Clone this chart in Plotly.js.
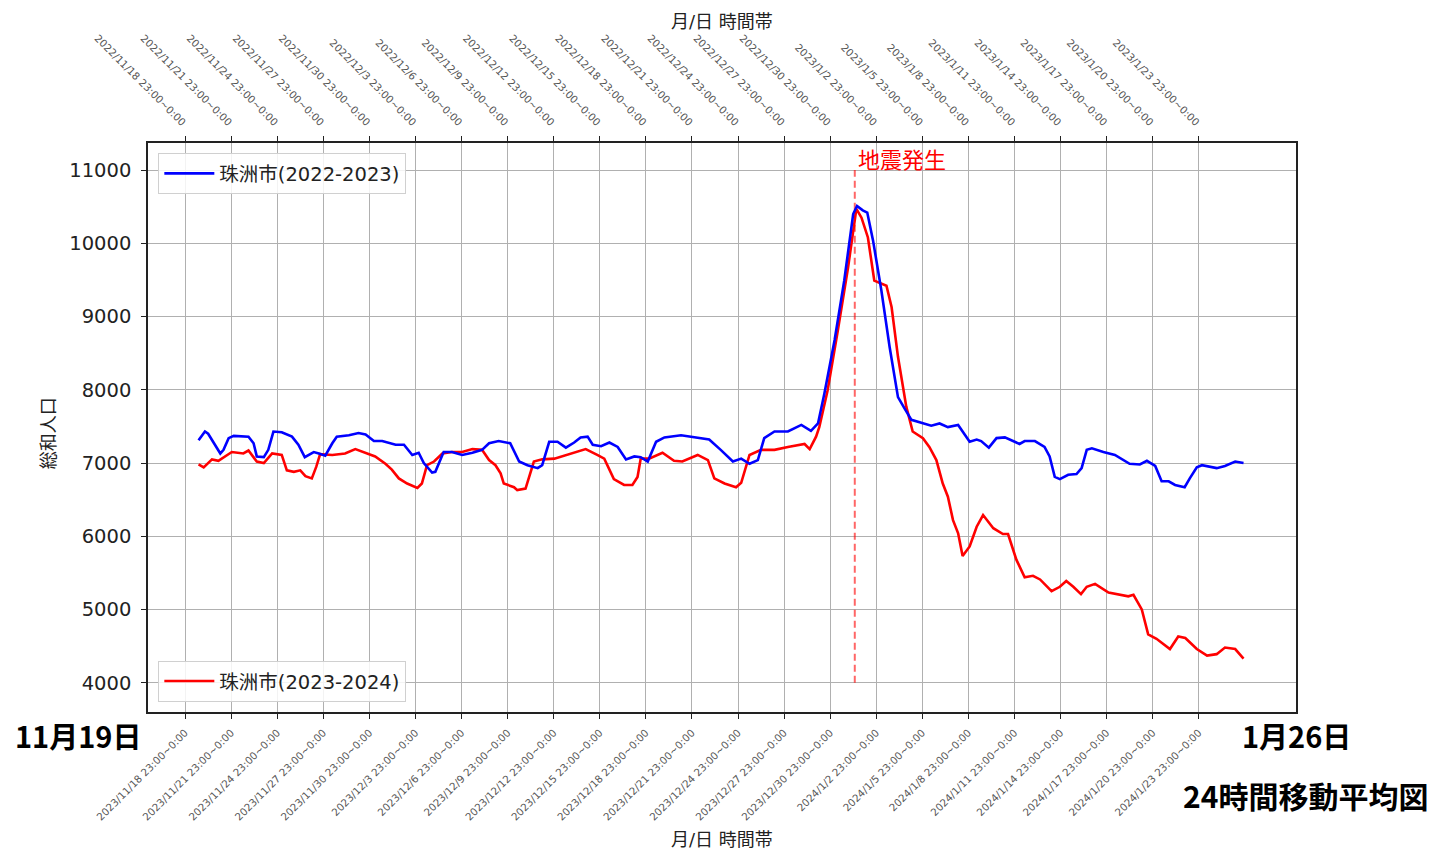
<!DOCTYPE html>
<html>
<head>
<meta charset="utf-8">
<script src="https://cdn.plot.ly/plotly-3.0.1.min.js"></script>
<style>
  html, body { margin: 0; padding: 0; background: #ffffff; }
  #chart { width: 1439px; height: 851px; }
</style>
</head>
<body>
<div id="chart"></div>
<script>
// 珠洲市 24-hour moving average population, two winters side by side.

// 2022-2023 season (top axis)
const blueTimes = [
  '2022-11-19 20:00','2022-11-20 06:00','2022-11-20 11:00','2022-11-21 06:00','2022-11-21 11:00',
  '2022-11-21 19:00','2022-11-22 03:00','2022-11-23 02:00','2022-11-23 10:00','2022-11-23 15:00',
  '2022-11-24 02:00','2022-11-24 09:00','2022-11-24 17:00','2022-11-25 06:00','2022-11-25 22:00',
  '2022-11-26 08:00','2022-11-26 18:00','2022-11-27 08:00','2022-11-27 16:00','2022-11-28 02:00',
  '2022-11-28 13:00','2022-11-28 20:00','2022-11-29 15:00','2022-11-30 06:00','2022-11-30 17:00',
  '2022-12-01 06:00','2022-12-01 19:00','2022-12-02 16:00','2022-12-03 05:00','2022-12-03 18:00',
  '2022-12-04 04:00','2022-12-04 12:00','2022-12-05 01:00','2022-12-05 06:00','2022-12-05 19:00',
  '2022-12-06 08:00','2022-12-07 00:00','2022-12-07 16:00','2022-12-08 07:00','2022-12-08 18:00',
  '2022-12-09 09:00','2022-12-10 03:00','2022-12-10 17:00','2022-12-11 06:00','2022-12-11 22:00',
  '2022-12-12 05:00','2022-12-12 16:00','2022-12-13 05:00','2022-12-13 18:00','2022-12-14 07:00',
  '2022-12-14 17:00','2022-12-15 04:00','2022-12-15 12:00','2022-12-16 01:00','2022-12-16 14:00',
  '2022-12-17 03:00','2022-12-17 16:00','2022-12-18 05:00','2022-12-18 15:00','2022-12-19 02:00',
  '2022-12-19 15:00','2022-12-20 04:00','2022-12-21 06:00','2022-12-22 08:00','2022-12-23 02:00',
  '2022-12-23 20:00','2022-12-24 15:00','2022-12-25 04:00','2022-12-25 17:00','2022-12-26 06:00',
  '2022-12-26 16:00','2022-12-27 08:00','2022-12-28 05:00','2022-12-29 02:00','2022-12-29 17:00',
  '2022-12-30 04:00','2022-12-30 14:00','2022-12-31 06:00','2022-12-31 21:00','2023-01-01 11:00',
  '2023-01-01 17:00','2023-01-02 02:00','2023-01-02 09:00','2023-01-02 18:00','2023-01-03 07:00',
  '2023-01-03 20:00','2023-01-04 09:00','2023-01-04 19:00','2023-01-05 06:00','2023-01-06 13:00',
  '2023-01-07 02:00','2023-01-07 15:00','2023-01-08 07:00','2023-01-09 01:00','2023-01-09 12:00',
  '2023-01-09 19:00','2023-01-10 07:00','2023-01-10 19:00','2023-01-11 08:00','2023-01-12 07:00',
  '2023-01-12 15:00','2023-01-13 07:00','2023-01-13 22:00','2023-01-14 06:00','2023-01-14 14:00',
  '2023-01-14 22:00','2023-01-15 11:00','2023-01-16 00:00','2023-01-16 08:00','2023-01-16 16:00',
  '2023-01-17 00:00','2023-01-17 18:00','2023-01-18 12:00','2023-01-19 11:00','2023-01-20 03:00',
  '2023-01-20 14:00','2023-01-21 03:00','2023-01-21 13:00','2023-01-22 00:00','2023-01-22 10:00',
  '2023-01-23 01:00','2023-01-23 09:00','2023-01-23 20:00','2023-01-24 04:00','2023-01-24 14:00',
  '2023-01-25 03:00','2023-01-25 16:00','2023-01-26 08:00','2023-01-26 21:00'
];
const blueValues = [
  7310, 7430, 7400, 7130, 7180,
  7340, 7370, 7360, 7270, 7090,
  7080, 7180, 7430, 7420, 7360,
  7250, 7080, 7150, 7130, 7100,
  7270, 7360, 7380, 7410, 7390,
  7300, 7300, 7250, 7250, 7110,
  7140, 7000, 6870, 6880, 7150,
  7150, 7110, 7140, 7180, 7270,
  7300, 7270, 7020, 6970, 6930,
  6970, 7290, 7290, 7210, 7280,
  7350, 7360, 7250, 7230, 7280,
  7220, 7050, 7090, 7080, 7020,
  7290, 7350, 7380, 7350, 7320,
  7180, 7020, 7060, 6990, 7040,
  7340, 7430, 7430, 7520, 7440,
  7540, 7950, 8680, 9490, 10400,
  10510, 10450, 10420, 10040, 9360,
  8580, 7900, 7750, 7590, 7510,
  7540, 7490, 7520, 7290, 7320,
  7300, 7210, 7340, 7350, 7260,
  7300, 7300, 7220, 7090, 6810,
  6780, 6840, 6850, 6930, 7180,
  7200, 7150, 7110, 6990, 6980,
  7030, 6960, 6750, 6750, 6700,
  6670, 6790, 6940, 6970, 6950,
  6930, 6960, 7020, 7000
];

// 2023-2024 season (bottom axis)
const redTimes = [
  '2023-11-19 20:00','2023-11-20 04:00','2023-11-20 17:00','2023-11-21 03:00','2023-11-22 00:00',
  '2023-11-22 18:00','2023-11-23 02:00','2023-11-23 15:00','2023-11-24 02:00','2023-11-24 15:00',
  '2023-11-25 06:00','2023-11-25 14:00','2023-11-26 01:00','2023-11-26 11:00','2023-11-26 19:00',
  '2023-11-27 05:00','2023-11-27 12:00','2023-11-27 18:00','2023-11-28 13:00','2023-11-29 09:00',
  '2023-11-30 01:00','2023-11-30 17:00','2023-12-01 08:00','2023-12-02 00:00','2023-12-02 10:00',
  '2023-12-02 21:00','2023-12-03 10:00','2023-12-04 02:00','2023-12-04 09:00','2023-12-04 17:00',
  '2023-12-05 04:00','2023-12-05 17:00','2023-12-06 08:00','2023-12-07 00:00','2023-12-07 16:00',
  '2023-12-08 07:00','2023-12-08 18:00','2023-12-09 04:00','2023-12-09 12:00','2023-12-09 17:00',
  '2023-12-09 23:00','2023-12-10 09:00','2023-12-10 14:00','2023-12-11 03:00','2023-12-11 16:00',
  '2023-12-12 05:00','2023-12-13 00:00','2023-12-13 20:00','2023-12-15 01:00','2023-12-15 19:00',
  '2023-12-16 06:00','2023-12-16 21:00','2023-12-17 13:00','2023-12-18 02:00','2023-12-18 10:00',
  '2023-12-18 15:00','2023-12-19 04:00','2023-12-20 01:00','2023-12-20 19:00','2023-12-21 08:00',
  '2023-12-22 08:00','2023-12-23 00:00','2023-12-23 10:00','2023-12-24 02:00','2023-12-24 20:00',
  '2023-12-25 04:00','2023-12-25 17:00','2023-12-26 11:00','2023-12-27 08:00','2023-12-28 05:00',
  '2023-12-29 07:00','2023-12-29 15:00','2023-12-30 01:00','2023-12-30 06:00','2023-12-30 19:00',
  '2023-12-31 11:00','2024-01-01 03:00','2024-01-01 16:00','2024-01-02 00:00','2024-01-02 10:00',
  '2024-01-02 20:00','2024-01-03 15:00','2024-01-03 23:00','2024-01-04 09:00','2024-01-04 22:00',
  '2024-01-05 08:00','2024-01-06 00:00','2024-01-06 10:00','2024-01-06 21:00','2024-01-07 07:00',
  '2024-01-07 15:00','2024-01-07 23:00','2024-01-08 07:00','2024-01-08 14:00','2024-01-09 01:00',
  '2024-01-09 12:00','2024-01-09 22:00','2024-01-10 14:00','2024-01-11 05:00','2024-01-11 13:00',
  '2024-01-12 02:00','2024-01-12 15:00','2024-01-13 04:00','2024-01-13 15:00','2024-01-14 09:00',
  '2024-01-14 22:00','2024-01-15 08:00','2024-01-15 19:00','2024-01-16 07:00','2024-01-16 16:00',
  '2024-01-17 05:00','2024-01-18 02:00','2024-01-18 20:00','2024-01-19 09:00','2024-01-19 17:00',
  '2024-01-20 06:00','2024-01-20 16:00','2024-01-21 05:00','2024-01-22 02:00','2024-01-22 15:00',
  '2024-01-23 02:00','2024-01-23 20:00','2024-01-24 12:00','2024-01-25 03:00','2024-01-25 16:00',
  '2024-01-26 08:00','2024-01-26 21:00'
];
const redValues = [
  6980, 6940, 7050, 7030, 7150,
  7130, 7170, 7020, 7000, 7130,
  7110, 6900, 6880, 6900, 6820,
  6790, 6950, 7120, 7110, 7130,
  7190, 7140, 7090, 6990, 6910,
  6790, 6720, 6660, 6720, 6970,
  7020, 7130, 7150, 7150, 7190,
  7180, 7040, 6970, 6860, 6720,
  6700, 6670, 6630, 6650, 7020,
  7050, 7060, 7110, 7190, 7110,
  7060, 6780, 6700, 6700, 6810,
  7060, 7060, 7140, 7030, 7020,
  7110, 7040, 6790, 6720, 6670,
  6730, 7110, 7180, 7180, 7220,
  7260, 7190, 7360, 7490, 7990,
  8810, 9670, 10470, 10350, 10080,
  9490, 9420, 9130, 8450, 7770,
  7430, 7340, 7220, 7040, 6720,
  6540, 6220, 6040, 5730, 5860,
  6130, 6290, 6110, 6030, 6030,
  5680, 5440, 5460, 5410, 5250,
  5310, 5390, 5310, 5210, 5310,
  5350, 5230, 5200, 5180, 5200,
  5000, 4660, 4600, 4460, 4630,
  4610, 4460, 4370, 4390, 4480,
  4460, 4330
];

// Earthquake marker
const quakeTime = '2024-01-01 13:30';
const quakeSpan = [4000, 11000];
const quakeLabel = '地震発生';

// Axis ticks (every three days)
const bottomTickVals = [
  '2023-11-18 23:00','2023-11-21 23:00','2023-11-24 23:00','2023-11-27 23:00','2023-11-30 23:00',
  '2023-12-03 23:00','2023-12-06 23:00','2023-12-09 23:00','2023-12-12 23:00','2023-12-15 23:00',
  '2023-12-18 23:00','2023-12-21 23:00','2023-12-24 23:00','2023-12-27 23:00','2023-12-30 23:00',
  '2024-01-02 23:00','2024-01-05 23:00','2024-01-08 23:00','2024-01-11 23:00','2024-01-14 23:00',
  '2024-01-17 23:00','2024-01-20 23:00','2024-01-23 23:00'
];
const bottomTickLabels = [
  '2023/11/18 23:00~0:00','2023/11/21 23:00~0:00','2023/11/24 23:00~0:00','2023/11/27 23:00~0:00','2023/11/30 23:00~0:00',
  '2023/12/3 23:00~0:00','2023/12/6 23:00~0:00','2023/12/9 23:00~0:00','2023/12/12 23:00~0:00','2023/12/15 23:00~0:00',
  '2023/12/18 23:00~0:00','2023/12/21 23:00~0:00','2023/12/24 23:00~0:00','2023/12/27 23:00~0:00','2023/12/30 23:00~0:00',
  '2024/1/2 23:00~0:00','2024/1/5 23:00~0:00','2024/1/8 23:00~0:00','2024/1/11 23:00~0:00','2024/1/14 23:00~0:00',
  '2024/1/17 23:00~0:00','2024/1/20 23:00~0:00','2024/1/23 23:00~0:00'
];
const topTickVals = [
  '2022-11-18 23:00','2022-11-21 23:00','2022-11-24 23:00','2022-11-27 23:00','2022-11-30 23:00',
  '2022-12-03 23:00','2022-12-06 23:00','2022-12-09 23:00','2022-12-12 23:00','2022-12-15 23:00',
  '2022-12-18 23:00','2022-12-21 23:00','2022-12-24 23:00','2022-12-27 23:00','2022-12-30 23:00',
  '2023-01-02 23:00','2023-01-05 23:00','2023-01-08 23:00','2023-01-11 23:00','2023-01-14 23:00',
  '2023-01-17 23:00','2023-01-20 23:00','2023-01-23 23:00'
];
const topTickLabels = [
  '2022/11/18 23:00~0:00','2022/11/21 23:00~0:00','2022/11/24 23:00~0:00','2022/11/27 23:00~0:00','2022/11/30 23:00~0:00',
  '2022/12/3 23:00~0:00','2022/12/6 23:00~0:00','2022/12/9 23:00~0:00','2022/12/12 23:00~0:00','2022/12/15 23:00~0:00',
  '2022/12/18 23:00~0:00','2022/12/21 23:00~0:00','2022/12/24 23:00~0:00','2022/12/27 23:00~0:00','2022/12/30 23:00~0:00',
  '2023/1/2 23:00~0:00','2023/1/5 23:00~0:00','2023/1/8 23:00~0:00','2023/1/11 23:00~0:00','2023/1/14 23:00~0:00',
  '2023/1/17 23:00~0:00','2023/1/20 23:00~0:00','2023/1/23 23:00~0:00'
];
const yTickVals = [4000, 5000, 6000, 7000, 8000, 9000, 10000, 11000];
const yTickLabels = ['4000', '5000', '6000', '7000', '8000', '9000', '10000', '11000'];

const seriesNames = ['珠洲市(2022-2023)', '珠洲市(2023-2024)'];

const FONT = 'DejaVu Sans, "Noto Sans CJK JP", sans-serif';
const BOLD = '"Noto Sans CJK JP", sans-serif';

const traces = [
  {
    x: blueTimes, y: blueValues, xaxis: 'x2', yaxis: 'y',
    type: 'scatter', mode: 'lines', name: seriesNames[0],
    line: { color: '#0000ff', width: 2.6 }, legend: 'legend'
  },
  {
    x: redTimes, y: redValues, xaxis: 'x', yaxis: 'y',
    type: 'scatter', mode: 'lines', name: seriesNames[1],
    line: { color: '#ff0000', width: 2.6 }, legend: 'legend2'
  },
  {
    x: [quakeTime, quakeTime], y: quakeSpan, xaxis: 'x', yaxis: 'y',
    type: 'scatter', mode: 'lines', showlegend: false, hoverinfo: 'skip',
    line: { color: 'rgba(255,0,0,0.6)', width: 2, dash: '7px,4px' }
  }
];

const axisCommon = {
  type: 'date',
  showgrid: true, gridcolor: '#b0b0b0', gridwidth: 1.4,
  ticks: 'outside', ticklen: 5, tickwidth: 1.3, tickcolor: '#222',
  ticklabelstandoff: 4,
  showline: true, linecolor: '#222', linewidth: 1.5,
  zeroline: false,
  tickfont: { family: FONT, size: 10.3, color: '#555' }
};

const legendCommon = {
  xanchor: 'left',
  bgcolor: 'rgba(255,255,255,0.85)', bordercolor: '#d0d0d0', borderwidth: 1,
  itemwidth: 50,
  font: { family: FONT, size: 19.5, color: '#222' }
};

const layout = {
  width: 1439, height: 851,
  margin: { l: 148, r: 143, t: 143, b: 139 },
  paper_bgcolor: '#ffffff', plot_bgcolor: '#ffffff',
  font: { family: FONT, color: '#222' },
  showlegend: true,
  xaxis: Object.assign({}, axisCommon, {
    side: 'bottom', anchor: 'y',
    range: ['2023-11-16 13:00', '2024-01-30 07:00'],
    tickmode: 'array', tickvals: bottomTickVals, ticktext: bottomTickLabels,
    tickangle: -45
  }),
  xaxis2: Object.assign({}, axisCommon, {
    side: 'top', overlaying: 'x', anchor: 'y',
    range: ['2022-11-16 13:00', '2023-01-30 07:00'],
    tickmode: 'array', tickvals: topTickVals, ticktext: topTickLabels,
    tickangle: 45, showgrid: false
  }),
  yaxis: {
    range: [3600, 11370],
    tickmode: 'array', tickvals: yTickVals, ticktext: yTickLabels,
    showgrid: true, gridcolor: '#b0b0b0', gridwidth: 1.4,
    ticks: 'outside', ticklen: 5, tickwidth: 1.3, tickcolor: '#222',
    ticklabelstandoff: 6,
    showline: true, mirror: true, linecolor: '#222', linewidth: 1.5,
    zeroline: false,
    tickfont: { family: FONT, size: 19.5, color: '#222' }
  },
  legend: Object.assign({}, legendCommon, { x: 0.009, y: 0.982, yanchor: 'top' }),
  legend2: Object.assign({}, legendCommon, { x: 0.009, y: 0.018, yanchor: 'bottom' }),
  annotations: [
    { text: quakeLabel, x: quakeTime, y: 11000, xref: 'x', yref: 'y',
      xanchor: 'left', yanchor: 'bottom', xshift: 1, yshift: -5, showarrow: false,
      font: { family: FONT, size: 22, color: '#ff0000' } },
    { text: '総和人口', xref: 'paper', yref: 'paper', x: -0.087, y: 0.49,
      textangle: -90, showarrow: false, xanchor: 'center', yanchor: 'middle',
      font: { family: FONT, size: 18, color: '#222' } },
    { text: '月/日 時間帯', xref: 'paper', yref: 'paper', x: 0.5, y: 1.214,
      showarrow: false, xanchor: 'center', yanchor: 'middle',
      font: { family: FONT, size: 18, color: '#222' } },
    { text: '月/日 時間帯', xref: 'paper', yref: 'paper', x: 0.5, y: -0.224,
      showarrow: false, xanchor: 'center', yanchor: 'middle',
      font: { family: FONT, size: 18, color: '#222' } },
    { text: '<b>11月19日</b>', xref: 'paper', yref: 'paper', x: -0.061, y: -0.04,
      showarrow: false, xanchor: 'center', yanchor: 'middle',
      font: { family: BOLD, size: 29, color: '#000' } },
    { text: '<b>1月26日</b>', xref: 'paper', yref: 'paper', x: 1.0, y: -0.04,
      showarrow: false, xanchor: 'center', yanchor: 'middle',
      font: { family: BOLD, size: 29, color: '#000' } },
    { text: '<b>24時間移動平均図</b>', xref: 'paper', yref: 'paper', x: 1.008, y: -0.146,
      showarrow: false, xanchor: 'center', yanchor: 'middle',
      font: { family: BOLD, size: 30, color: '#000' } }
  ]
};

Plotly.newPlot('chart', traces, layout, { displayModeBar: false, responsive: false });
</script>
</body>
</html>
